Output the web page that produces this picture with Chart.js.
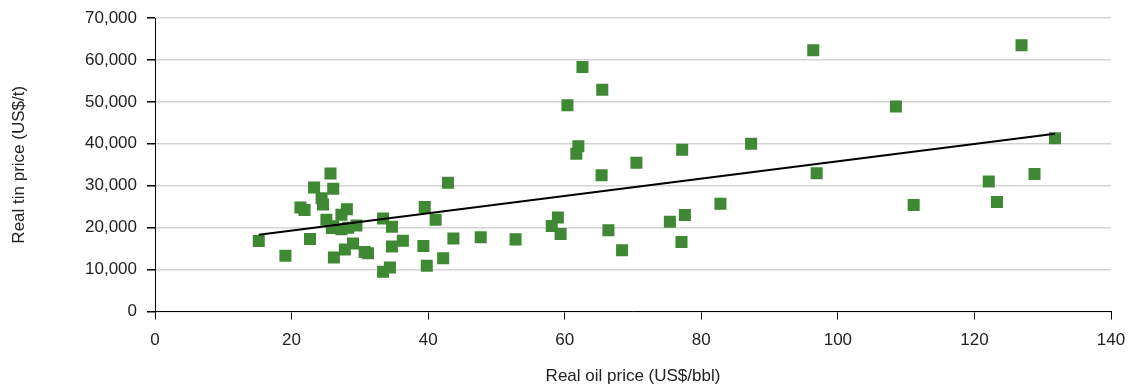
<!DOCTYPE html>
<html>
<head>
<meta charset="utf-8">
<script src="https://cdn.jsdelivr.net/npm/chart.js@4/dist/chart.umd.min.js"></script>
<style>
html,body{margin:0;padding:0;background:#fff;}
#wrap{width:1131px;height:389px;position:relative;}
</style>
</head>
<body>
<div id="wrap"><canvas id="c" width="1131" height="389"></canvas></div>
<script>
const oilPrice = [15.2,19.1,21.3,21.9,22.7,23.3,24.4,24.6,25.7,26.1,25.1,25.9,26.1,27.3,28.1,27.3,28.3,29.5,29.0,27.8,26.2,30.7,31.2,33.4,34.7,34.7,33.4,34.4,36.3,39.3,39.5,39.8,41.1,42.2,42.9,43.7,47.7,52.8,58.1,59.0,59.4,60.4,61.7,62.0,62.6,65.5,65.4,66.4,68.4,70.5,75.4,77.1,77.2,77.6,82.8,87.3,96.4,96.9,108.5,111.1,122.1,123.3,126.9,128.8,131.8];
const tinPrice = [16800,13300,24800,24200,17300,29600,27000,25500,32900,29300,21900,19900,20300,19600,24400,23100,20000,20500,16200,14800,12900,14200,13900,22200,20200,15500,9500,10500,16900,15600,24900,10900,21900,12700,30700,17400,17700,17200,20400,22400,18500,49200,37600,39400,58300,52900,32500,19400,14600,35500,21400,16600,38600,23000,25700,40000,62300,33000,48900,25400,31000,26100,63500,32800,41300];
const trendX = [15.2, 131.8];
const trendY = [18300, 42400];
const xTicks = [0,20,40,60,80,100,120,140];
const yTicks = [0,10000,20000,30000,40000,50000,60000,70000];

const pts = oilPrice.map((x,i)=>({x:x,y:tinPrice[i]}));
const trend = trendX.map((x,i)=>({x:x,y:trendY[i]}));
const FONT = "'Liberation Sans', Arial, sans-serif";
const TXT = '#222';

new Chart(document.getElementById('c'), {
  type: 'scatter',
  data: {
    datasets: [
      {label:'Trend', data: trend, showLine:true, borderColor:'#000', borderWidth:2.2, pointRadius:0, fill:false},
      {label:'Tin vs oil', data: pts, pointStyle:'rect', pointRadius:8.5, pointHoverRadius:8.5,
       backgroundColor:'#3F8834', borderColor:'#3F8834', borderWidth:0}
    ]
  },
  options: {
    responsive:false, animation:false,
    layout:{padding:{top:18,right:20,left:0,bottom:0}},
    plugins:{legend:{display:false}, tooltip:{enabled:false}},
    scales:{
      x:{
        type:'linear', min:0, max:140,
        afterBuildTicks: s => { s.ticks = xTicks.map(v=>({value:v})); },
        afterFit: s => { s.height = 77.5; s.paddingLeft = 0; s.paddingRight = 0; },
        grid:{drawOnChartArea:false, drawTicks:true, tickLength:8, tickColor:'#000'},
        border:{color:'#000', width:1},
        ticks:{font:{family:FONT,size:17}, color:TXT, padding:11, maxRotation:0},
        title:{display:true, text:'Real oil price (US$/bbl)', font:{family:FONT,size:17}, color:TXT, padding:{top:6,bottom:2}}
      },
      y:{
        type:'linear', min:0, max:70000,
        afterBuildTicks: s => { s.ticks = yTicks.map(v=>({value:v})); },
        afterFit: s => { s.width = 155; s.paddingTop = 0; s.paddingBottom = 0; },
        grid:{color:'#d4d4d4', lineWidth:1.5, drawTicks:true, tickLength:8, tickColor:'#000'},
        border:{color:'#000', width:1},
        ticks:{font:{family:FONT,size:17}, color:TXT, padding:10,
          callback: v => v.toLocaleString('en-US')},
        title:{display:true, text:'Real tin price (US$/t)', font:{family:FONT,size:17}, color:TXT, padding:{top:9,bottom:6}}
      }
    }
  }
});
</script>
</body>
</html>
